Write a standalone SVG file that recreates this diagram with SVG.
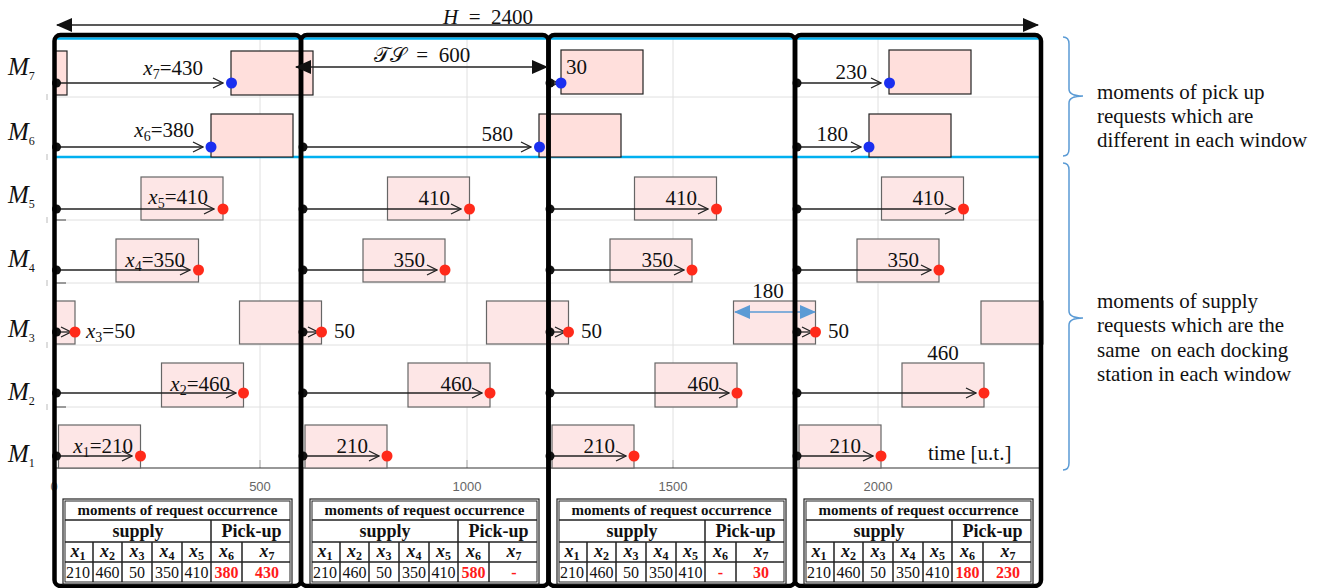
<svg xmlns="http://www.w3.org/2000/svg" width="1325" height="588" viewBox="0 0 1325 588">
<style>
.grid{stroke:#e0e0e0;stroke-width:1;fill:none}
.cyan{stroke:#00b0f0;stroke-width:2.5;fill:none}
.sup{fill:#fde6e6;stroke:#666;stroke-width:1.2}
.pk{fill:#ffdfdc;stroke:#222;stroke-width:1.2}
.arr{stroke:#222;stroke-width:1.3;fill:none;marker-end:url(#chev)}
.bd{fill:#111}
.rd{fill:#ff2a1a}
.bl{fill:#1a2ff0}
.lab{font-family:"Liberation Serif",serif;font-size:21px;fill:#111}
.ml{font-family:"Liberation Serif",serif;font-size:25px;fill:#111;font-style:italic}
.frame{fill:none;stroke:#000;stroke-width:4.5}
.tick{font-family:"Liberation Sans",sans-serif;font-size:13px;fill:#666;text-anchor:middle}
.side{font-family:"Liberation Serif",serif;font-size:21px;fill:#111}
.brace{fill:none;stroke:#5b9bd5;stroke-width:1.5}
.tl{stroke:#222;stroke-width:1.5;fill:none}
.th{font-family:"Liberation Serif",serif;font-weight:bold;font-size:15px;fill:#111;text-anchor:middle}
.th2{font-family:"Liberation Serif",serif;font-weight:bold;font-size:18px;fill:#111;text-anchor:middle}
.tx{font-family:"Liberation Serif",serif;font-weight:bold;font-style:italic;font-size:18px;fill:#111;text-anchor:middle}
.tv{font-family:"Liberation Serif",serif;font-size:16px;fill:#111;text-anchor:middle}
.tr{font-family:"Liberation Serif",serif;font-size:16px;font-weight:bold;fill:#ff1a1a;text-anchor:middle}
.sb{font-size:12px;font-style:normal}
</style>
<defs>
<marker id="chev" viewBox="0 0 12 12" refX="11" refY="6" markerWidth="12" markerHeight="12" markerUnits="userSpaceOnUse" orient="auto"><path d="M1,1 L11,6 L1,11" fill="none" stroke="#222" stroke-width="1.3"/></marker>
<marker id="tri" viewBox="0 0 16 14" refX="15" refY="7" markerWidth="16" markerHeight="14" markerUnits="userSpaceOnUse" orient="auto-start-reverse"><path d="M0,0 L16,7 L0,14 z" fill="#111"/></marker>
<marker id="btri" viewBox="0 0 16 14" refX="15" refY="7" markerWidth="16" markerHeight="14" markerUnits="userSpaceOnUse" orient="auto-start-reverse"><path d="M0,0 L16,7 L0,14 z" fill="#5b9bd5"/></marker>
</defs>
<rect width="1325" height="588" fill="#fff"/>

<g id="grid">
<path class="grid" d="M260,39V468M467,39V468M673,39V468M878,39V468"/>
<path class="grid" d="M55,97H1041M55,220H1041M55,283H1041M55,345H1041M55,407H1041"/>
<path d="M260,460V468M467,460V468M673,460V468M878,460V468" stroke="#aaa" stroke-width="1"/>
<path d="M55,468H1041" stroke="#333" stroke-width="1.2"/>
<path d="M56,220H66M56,283H66M56,407H66" stroke="#444" stroke-width="1"/>
<path d="M47,94V100M47,154V160M47,217V223M47,280V286M47,342V348M47,404V410" stroke="#bbb" stroke-width="1"/>
<path class="cyan" d="M55,38.5H1041M55,157H1041"/>
<text class="tick" x="54" y="491">0</text>
<text class="tick" x="260" y="491">500</text>
<text class="tick" x="467" y="491">1000</text>
<text class="tick" x="673" y="491">1500</text>
<text class="tick" x="878" y="491">2000</text>
</g>

<g id="row-labels">
<text class="ml" x="8" y="75">M<tspan class="sb" font-size="15" dy="5">7</tspan></text>
<text class="ml" x="8" y="140">M<tspan class="sb" font-size="15" dy="5">6</tspan></text>
<text class="ml" x="8" y="203">M<tspan class="sb" font-size="15" dy="5">5</tspan></text>
<text class="ml" x="8" y="267">M<tspan class="sb" font-size="15" dy="5">4</tspan></text>
<text class="ml" x="8" y="337">M<tspan class="sb" font-size="15" dy="5">3</tspan></text>
<text class="ml" x="8" y="400">M<tspan class="sb" font-size="15" dy="5">2</tspan></text>
<text class="ml" x="8" y="462">M<tspan class="sb" font-size="15" dy="5">1</tspan></text>
</g>

<g id="boxes">
<rect class="pk" x="55" y="51" width="12" height="44"/>
<rect class="pk" x="231" y="51" width="82" height="44"/>
<rect class="pk" x="561" y="50" width="82" height="44"/>
<rect class="pk" x="889" y="50" width="82" height="44"/>
<rect class="pk" x="211" y="114" width="82" height="43"/>
<rect class="pk" x="539" y="114" width="82" height="43"/>
<rect class="pk" x="869" y="114" width="82" height="43"/>
<rect class="sup" x="141" y="177" width="82" height="43"/>
<rect class="sup" x="387.5" y="177" width="82" height="43"/>
<rect class="sup" x="634.5" y="177" width="82" height="43"/>
<rect class="sup" x="881.5" y="177" width="82" height="43"/>
<rect class="sup" x="116" y="239" width="82.5" height="43"/>
<rect class="sup" x="363" y="239" width="82" height="43"/>
<rect class="sup" x="610" y="239" width="82" height="43"/>
<rect class="sup" x="857" y="239" width="82" height="43"/>
<rect class="sup" x="55" y="301" width="20" height="43"/>
<rect class="sup" x="239.5" y="301" width="82" height="43"/>
<rect class="sup" x="486.5" y="301" width="82" height="43"/>
<rect class="sup" x="733.5" y="301" width="82" height="43"/>
<rect class="sup" x="981" y="301" width="62" height="43"/>
<rect class="sup" x="161.5" y="363" width="82" height="44"/>
<rect class="sup" x="408" y="363" width="82" height="44"/>
<rect class="sup" x="655" y="363" width="82" height="44"/>
<rect class="sup" x="902" y="363" width="82" height="44"/>
<rect class="sup" x="58.5" y="425" width="82" height="43"/>
<rect class="sup" x="305" y="425" width="82" height="43"/>
<rect class="sup" x="552" y="425" width="82" height="43"/>
<rect class="sup" x="799" y="425" width="82" height="43"/>
</g>

<g id="connectors">
<path class="arr" d="M55,83H223"/>
<path class="arr" d="M549,83H558"/>
<path class="arr" d="M796,83H881"/>
<path class="arr" d="M55,147H203"/>
<path class="arr" d="M302,147H531"/>
<path class="arr" d="M796,147H861"/>
<path class="arr" d="M55,209H214"/>
<path class="arr" d="M302,209H461"/>
<path class="arr" d="M549,209H708"/>
<path class="arr" d="M796,209H955"/>
<path class="arr" d="M55,270H190"/>
<path class="arr" d="M302,270H437"/>
<path class="arr" d="M549,270H684"/>
<path class="arr" d="M796,270H931"/>
<path class="arr" d="M55,332H71"/>
<path class="arr" d="M302,332H318"/>
<path class="arr" d="M549,332H565"/>
<path class="arr" d="M796,332H812"/>
<path class="arr" d="M55,393H236"/>
<path class="arr" d="M302,393H482"/>
<path class="arr" d="M549,393H729"/>
<path class="arr" d="M796,393H976"/>
<path class="arr" d="M55,456H132"/>
<path class="arr" d="M302,456H379"/>
<path class="arr" d="M549,456H626"/>
<path class="arr" d="M796,456H873"/>
</g>

<g id="start-dots">
<circle class="bd" cx="56.5" cy="83" r="4.5"/><circle class="bd" cx="550" cy="83" r="4.5"/><circle class="bd" cx="797" cy="83" r="4.5"/>
<circle class="bd" cx="56.5" cy="147" r="4.5"/><circle class="bd" cx="303" cy="147" r="4.5"/><circle class="bd" cx="797" cy="147" r="4.5"/>
<circle class="bd" cx="56.5" cy="209" r="4.5"/><circle class="bd" cx="303" cy="209" r="4.5"/><circle class="bd" cx="550" cy="209" r="4.5"/><circle class="bd" cx="797" cy="209" r="4.5"/>
<circle class="bd" cx="56.5" cy="270" r="4.5"/><circle class="bd" cx="303" cy="270" r="4.5"/><circle class="bd" cx="550" cy="270" r="4.5"/><circle class="bd" cx="797" cy="270" r="4.5"/>
<circle class="bd" cx="56.5" cy="332" r="4.5"/><circle class="bd" cx="303" cy="332" r="4.5"/><circle class="bd" cx="550" cy="332" r="4.5"/><circle class="bd" cx="797" cy="332" r="4.5"/>
<circle class="bd" cx="56.5" cy="393" r="4.5"/><circle class="bd" cx="303" cy="393" r="4.5"/><circle class="bd" cx="550" cy="393" r="4.5"/><circle class="bd" cx="797" cy="393" r="4.5"/>
<circle class="bd" cx="56.5" cy="456" r="4.5"/><circle class="bd" cx="303" cy="456" r="4.5"/><circle class="bd" cx="550" cy="456" r="4.5"/><circle class="bd" cx="797" cy="456" r="4.5"/>
</g>

<g id="request-dots">
<circle class="bl" cx="231.5" cy="83" r="5.5"/><circle class="bl" cx="561" cy="83" r="5.5"/><circle class="bl" cx="889.5" cy="83" r="5.5"/>
<circle class="bl" cx="211" cy="147" r="5.5"/><circle class="bl" cx="539.5" cy="147" r="5.5"/><circle class="bl" cx="869" cy="147" r="5.5"/>
<circle class="rd" cx="223" cy="209" r="5.5"/><circle class="rd" cx="469.5" cy="209" r="5.5"/><circle class="rd" cx="716.5" cy="209" r="5.5"/><circle class="rd" cx="963.5" cy="209" r="5.5"/>
<circle class="rd" cx="198.5" cy="270" r="5.5"/><circle class="rd" cx="445" cy="270" r="5.5"/><circle class="rd" cx="692" cy="270" r="5.5"/><circle class="rd" cx="939" cy="270" r="5.5"/>
<circle class="rd" cx="75" cy="332" r="5.5"/><circle class="rd" cx="321.5" cy="332" r="5.5"/><circle class="rd" cx="568.5" cy="332" r="5.5"/><circle class="rd" cx="815.5" cy="332" r="5.5"/>
<circle class="rd" cx="243.5" cy="393" r="5.5"/><circle class="rd" cx="490" cy="393" r="5.5"/><circle class="rd" cx="737" cy="393" r="5.5"/><circle class="rd" cx="984" cy="393" r="5.5"/>
<circle class="rd" cx="140.5" cy="456" r="5.5"/><circle class="rd" cx="387" cy="456" r="5.5"/><circle class="rd" cx="634" cy="456" r="5.5"/><circle class="rd" cx="881" cy="456" r="5.5"/>
</g>

<g id="request-labels">
<text class="lab" x="203" y="75" text-anchor="end"><tspan font-style="italic">x</tspan><tspan font-size="14" dy="4">7</tspan><tspan dy="-4">=430</tspan></text>
<text class="lab" x="566" y="74">30</text>
<text class="lab" x="867" y="79" text-anchor="end">230</text>
<text class="lab" x="194" y="137" text-anchor="end"><tspan font-style="italic">x</tspan><tspan font-size="14" dy="4">6</tspan><tspan dy="-4">=380</tspan></text>
<text class="lab" x="513" y="141" text-anchor="end">580</text>
<text class="lab" x="848" y="141" text-anchor="end">180</text>
<text class="lab" x="208" y="204" text-anchor="end"><tspan font-style="italic">x</tspan><tspan font-size="14" dy="4">5</tspan><tspan dy="-4">=410</tspan></text>
<text class="lab" x="450" y="205" text-anchor="end">410</text>
<text class="lab" x="697" y="205" text-anchor="end">410</text>
<text class="lab" x="944" y="205" text-anchor="end">410</text>
<text class="lab" x="185" y="267" text-anchor="end"><tspan font-style="italic">x</tspan><tspan font-size="14" dy="4">4</tspan><tspan dy="-4">=350</tspan></text>
<text class="lab" x="425" y="267" text-anchor="end">350</text>
<text class="lab" x="673" y="267" text-anchor="end">350</text>
<text class="lab" x="919" y="267" text-anchor="end">350</text>
<text class="lab" x="86" y="338"><tspan font-style="italic">x</tspan><tspan font-size="14" dy="4">3</tspan><tspan dy="-4">=50</tspan></text>
<text class="lab" x="334" y="338">50</text>
<text class="lab" x="581" y="338">50</text>
<text class="lab" x="828" y="338">50</text>
<text class="lab" x="230" y="391" text-anchor="end"><tspan font-style="italic">x</tspan><tspan font-size="14" dy="4">2</tspan><tspan dy="-4">=460</tspan></text>
<text class="lab" x="472" y="391" text-anchor="end">460</text>
<text class="lab" x="719" y="391" text-anchor="end">460</text>
<text class="lab" x="943" y="360" text-anchor="middle">460</text>
<text class="lab" x="133" y="453" text-anchor="end"><tspan font-style="italic">x</tspan><tspan font-size="14" dy="4">1</tspan><tspan dy="-4">=210</tspan></text>
<text class="lab" x="368" y="453" text-anchor="end">210</text>
<text class="lab" x="615" y="453" text-anchor="end">210</text>
<text class="lab" x="861" y="453" text-anchor="end">210</text>
<text class="lab" x="928" y="460" font-size="20">time [u.t.]</text>
</g>

<g id="gap-180">
<path d="M735,312H815" stroke="#5b9bd5" stroke-width="1.3" marker-start="url(#btri)" marker-end="url(#btri)"/>
<text class="lab" x="768" y="298" text-anchor="middle">180</text>
</g>

<g id="windows">
<rect class="frame" x="54.5" y="35" width="246.5" height="551" rx="6"/>
<rect class="frame" x="301" y="35" width="247.5" height="551" rx="6"/>
<rect class="frame" x="548.5" y="35" width="246.5" height="551" rx="6"/>
<rect class="frame" x="795" y="35" width="246" height="551" rx="6"/>
</g>

<g id="horizon">
<path d="M57,25H1038" stroke="#222" stroke-width="1.5" marker-start="url(#tri)" marker-end="url(#tri)"/>
<text class="lab" x="488" y="24" font-size="23" text-anchor="middle" xml:space="preserve"><tspan font-style="italic">H</tspan>  =  2400</text>
</g>

<g id="ts">
<path d="M296,67H547" stroke="#222" stroke-width="1.5" marker-start="url(#tri)" marker-end="url(#tri)"/>
<text class="lab" x="422" y="62" font-size="23" text-anchor="middle" xml:space="preserve">𝒯𝒮  =  600</text>
</g>

<g id="braces">
<path class="brace" d="M1063,37Q1069,37 1069,44V89Q1069,96 1083,96Q1069,96 1069,103V149Q1069,156 1063,156"/>
<path class="brace" d="M1063,163Q1069,163 1069,170V311Q1069,318 1083,318Q1069,318 1069,325V463Q1069,470 1063,470"/>
<text class="side" x="1097" y="99">moments of pick up</text>
<text class="side" x="1097" y="123">requests which are</text>
<text class="side" x="1097" y="147">different in each window</text>
<text class="side" x="1097" y="308">moments of supply</text>
<text class="side" x="1097" y="332">requests which are the</text>
<text class="side" x="1097" y="357">same&#160; on each docking</text>
<text class="side" x="1097" y="381">station in each window</text>
</g>

<defs>
<g id="tbl-grid">
<rect x="0" y="499" width="229" height="85" fill="#fff" stroke="#222" stroke-width="1.2"/>
<rect x="2" y="501" width="225" height="81" fill="none" stroke="#222" stroke-width="1"/>
<path class="tl" d="M2,520H227M2,542H227M2,562H227M148,520V582M30,542V582M59,542V582M89,542V582M119,542V582M179,542V582"/>
<text class="th" x="114.5" y="515">moments of request occurrence</text>
<text class="th2" x="75" y="537">supply</text>
<text class="th2" x="188.5" y="537">Pick-up</text>
<text class="tx" x="15" y="557">x<tspan class="sb" dy="3">1</tspan></text>
<text class="tx" x="44.5" y="557">x<tspan class="sb" dy="3">2</tspan></text>
<text class="tx" x="74" y="557">x<tspan class="sb" dy="3">3</tspan></text>
<text class="tx" x="104" y="557">x<tspan class="sb" dy="3">4</tspan></text>
<text class="tx" x="133.5" y="557">x<tspan class="sb" dy="3">5</tspan></text>
<text class="tx" x="163.5" y="557">x<tspan class="sb" dy="3">6</tspan></text>
<text class="tx" x="204" y="557">x<tspan class="sb" dy="3">7</tspan></text>
<text class="tv" x="15" y="578">210</text>
<text class="tv" x="44.5" y="578">460</text>
<text class="tv" x="74" y="578">50</text>
<text class="tv" x="104" y="578">350</text>
<text class="tv" x="133.5" y="578">410</text>
</g>
</defs>

<g id="table-1" transform="translate(63,0)">
<use href="#tbl-grid"/>
<text class="tr" x="163.5" y="578">380</text><text class="tr" x="204" y="578">430</text>
</g>
<g id="table-2" transform="translate(310,0)">
<use href="#tbl-grid"/>
<text class="tr" x="163.5" y="578">580</text><text class="tr" x="204" y="578">-</text>
</g>
<g id="table-3" transform="translate(557,0)">
<use href="#tbl-grid"/>
<text class="tr" x="163.5" y="578">-</text><text class="tr" x="204" y="578">30</text>
</g>
<g id="table-4" transform="translate(804,0)">
<use href="#tbl-grid"/>
<text class="tr" x="163.5" y="578">180</text><text class="tr" x="204" y="578">230</text>
</g>
</svg>
